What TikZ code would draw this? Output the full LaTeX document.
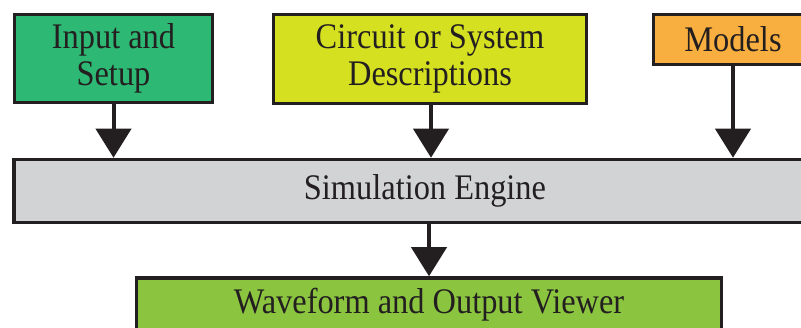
\documentclass[tikz,border=0pt]{standalone}
\usepackage{fontspec}
\setmainfont{Liberation Serif}[FakeStretch=0.9]
\usepackage{xcolor}
\usetikzlibrary{arrows.meta, positioning, calc}
\definecolor{lineblack}{HTML}{231F20}
\definecolor{inputgreen}{HTML}{2DB873}
\definecolor{circuityellow}{HTML}{D5E021}
\definecolor{modelorange}{HTML}{F9AF3F}
\definecolor{enginegray}{HTML}{D1D3D4}
\definecolor{viewergreen}{HTML}{8BC53F}

\begin{document}
\begin{tikzpicture}[
    x=1pt, y=1pt,
    block/.style={rectangle, draw=lineblack, line width=3.5pt, text=lineblack, align=center, inner sep=0pt, font=\fontsize{36}{37}\selectfont},
    flow/.style={line width=4pt, draw=lineblack, -{Triangle[width=35pt, length=29pt]}}
]
    \clip (0,0) rectangle (801,328);
    % Nodes
    \node[block, fill=inputgreen, minimum width=198pt, minimum height=88pt] (input) at (113.5,269.5) {Input and\\Setup};
    \node[block, fill=circuityellow, minimum width=313pt, minimum height=89pt] (circuit) at (430,269) {Circuit or System\\Descriptions};
    \node[block, fill=modelorange, minimum width=159pt, minimum height=50pt] (models) at (733,288.5) {Models};
    \node[block, fill=enginegray, minimum width=822pt, minimum height=63pt] (engine) at (425,137) {Simulation Engine};
    \node[block, fill=viewergreen, minimum width=585pt, minimum height=54pt] (viewer) at (429,23) {Waveform and Output Viewer};
    \coordinate (circuitout) at ($(circuit.south)+(1,0)$);

    % Connections
    \draw[flow] (input.south) -- (input.south |- engine.north);
    \draw[flow] (circuitout) -- (circuitout |- engine.north);
    \draw[flow] (models.south) -- (models.south |- engine.north);
    \draw[flow] (engine.south -| viewer.north) -- (viewer.north);
\end{tikzpicture}
\end{document}
